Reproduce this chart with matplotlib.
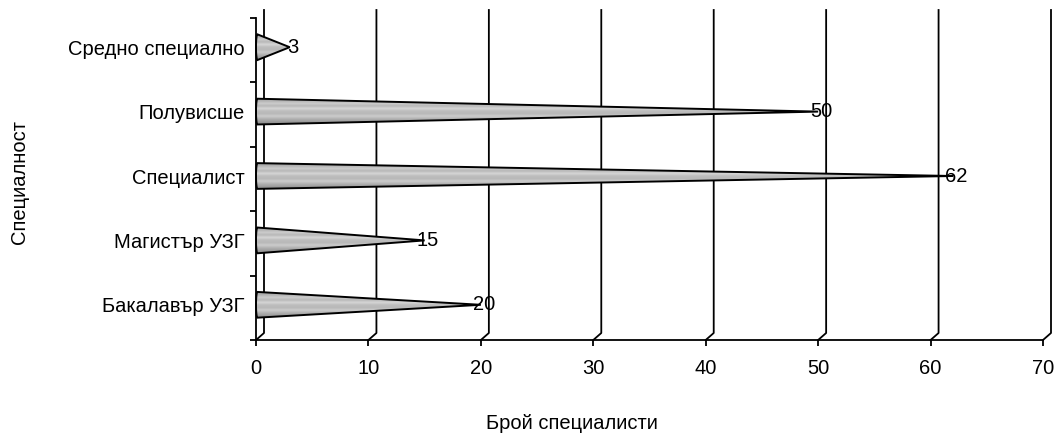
import matplotlib
matplotlib.use("Agg")
import matplotlib.pyplot as plt
import matplotlib.transforms as mtransforms
from matplotlib.patches import Polygon
import numpy as np

plt.rcParams['font.family'] = ['Liberation Sans', 'DejaVu Sans']

categories = ["Бакалавър УЗГ", "Магистър УЗГ", "Специалист", "Полувисше", "Средно специално"]
values = [20, 15, 62, 50, 3]
value_labels = ["20", "15", "62", "50", "3"]
xticks = [0, 10, 20, 30, 40, 50, 60, 70]

fs = 14.5

fig = plt.figure(figsize=(10.57, 4.36), dpi=100)
W, H = 1057, 436
ax = fig.add_axes([256 / W, (H - 340) / H, (1043 - 256) / W, (340 - 18) / H])
ax.set_xlim(0, 70)
ax.set_ylim(-0.5, 4.5)

# глубина 3d стенки
dx = 8 / (1043 - 256) * 70
dy = 7 / (340 - 18)
top = (340 - 10) / (340 - 18)

# задние линии сетки с маленькой диагональю к полу
bt = mtransforms.blended_transform_factory(ax.transData, ax.transAxes)
for v in xticks:
    ax.plot([v + dx, v + dx, v], [top, dy, 0], color='black', lw=1.3,
            transform=bt, clip_on=False, zorder=1)

# конусы, чуть выше как в 3d виде
up = mtransforms.ScaledTranslation(0, 3 / 100, fig.dpi_scale_trans)
hh = 0.2
grad = np.array([0.62, 0.70, 0.80, 0.72, 0.84, 0.74, 0.72, 0.80, 0.70, 0.62, 0.55])
grad_img = np.interp(np.linspace(0, 1, 60), np.linspace(0, 1, len(grad)), grad)[:, None]
for i, v in enumerate(values):
    t = np.linspace(np.pi / 2, 3 * np.pi / 2, 20)
    bx = 0.12 + 0.12 * np.cos(t)
    pts = list(zip(bx, i - hh * np.sin(t))) + [(v, i)]
    poly = Polygon(pts, closed=True, facecolor='none', edgecolor='black',
                   lw=1.4, transform=ax.transData + up, zorder=3, clip_on=False)
    ax.add_patch(poly)
    im = ax.imshow(np.repeat(grad_img, 2, axis=1), cmap='gray', vmin=0, vmax=1,
                   extent=[0, v, i - hh, i + hh], aspect='auto',
                   transform=ax.transData + up, zorder=2, clip_on=True)
    im.set_clip_path(poly)
    ax.text(v + 0.3, i, value_labels[i], ha='center', va='center', fontsize=fs,
            transform=ax.transData + up, zorder=4)

ax.set_xlim(0, 70)
ax.set_ylim(-0.5, 4.5)

ax.set_yticks(range(len(categories)))
ax.set_yticklabels(categories, fontsize=fs)
ax.set_yticks(np.arange(-0.5, 5, 1), minor=True)
ax.tick_params(axis='y', which='major', length=0, pad=8)
ax.tick_params(axis='y', which='minor', length=4, width=1.3, direction='out')
for lab in ax.get_yticklabels():
    lab.set_transform(lab.get_transform() + up)

ax.set_xticks(xticks)
ax.set_xticklabels([str(v) for v in xticks], fontsize=fs)
ax.tick_params(axis='x', length=4, width=1.3, direction='out', pad=10)

for s in ['top', 'right']:
    ax.spines[s].set_visible(False)
for s in ['left', 'bottom']:
    ax.spines[s].set_linewidth(1.3)

fig.text(572 / W, 1 - 423 / H, "Брой специалисти", ha='center', va='center', fontsize=fs)
fig.text(20 / W, 1 - 182 / H, "Специалност", ha='center', va='center', rotation=90, fontsize=fs)

fig.savefig("out.png", dpi=100)
